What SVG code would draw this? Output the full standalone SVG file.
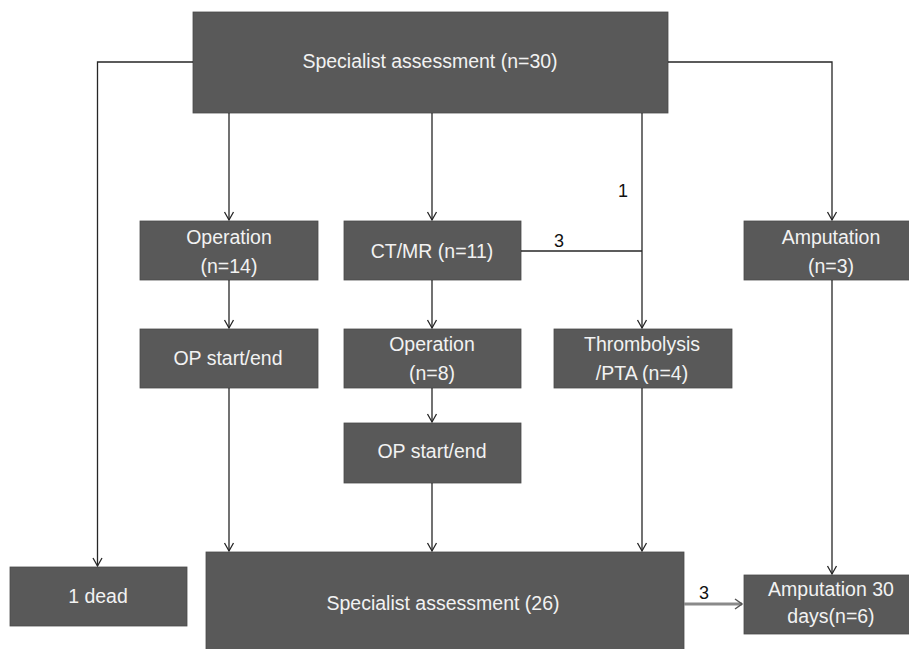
<svg xmlns="http://www.w3.org/2000/svg" width="909" height="649" viewBox="0 0 909 649">
<style>
.box{fill:#595959;stroke:#4a4a4a;stroke-width:0.8}
.t{font-family:"Liberation Sans",Arial,sans-serif;font-size:19.5px;fill:#f2f2f2;text-anchor:middle}
.lbl{font-family:"Liberation Sans",Arial,sans-serif;font-size:18px;fill:#111;text-anchor:middle}
.c{fill:none;stroke:#262626;stroke-width:1.3}
</style>
<defs>
<marker id="ah" markerWidth="12" markerHeight="12" refX="10" refY="6" orient="auto" markerUnits="userSpaceOnUse" viewBox="0 0 12 12">
<path d="M2,1.5 L10,6 L2,10.5" fill="none" stroke="#262626" stroke-width="1.3"/>
</marker>
<marker id="ahr" markerWidth="12" markerHeight="12" refX="10" refY="6" orient="auto" markerUnits="userSpaceOnUse" viewBox="0 0 12 12">
<path d="M3,1 L10,6 L3,11" fill="none" stroke="#555" stroke-width="1.5"/>
</marker>
</defs>
<rect width="909" height="649" fill="#fff"/>
<g id="n-top">
<rect class="box" x="193" y="12" width="475" height="101"/>
<text class="t" x="430" y="68">Specialist assessment (n=30)</text>
</g>
<g id="n-op14">
<rect class="box" x="140" y="221" width="178" height="59"/>
<text class="t" x="229" y="244">Operation</text>
<text class="t" x="229" y="273">(n=14)</text>
</g>
<g id="n-ctmr">
<rect class="box" x="344" y="221" width="177" height="59"/>
<text class="t" x="432" y="258">CT/MR (n=11)</text>
</g>
<g id="n-amp3">
<rect class="box" x="744" y="221" width="178" height="59"/>
<text class="t" x="831" y="244">Amputation</text>
<text class="t" x="831" y="273">(n=3)</text>
</g>
<g id="n-opse1">
<rect class="box" x="140" y="329" width="178" height="59"/>
<text class="t" x="228" y="365">OP start/end</text>
</g>
<g id="n-op8">
<rect class="box" x="344" y="329" width="177" height="59"/>
<text class="t" x="432" y="351">Operation</text>
<text class="t" x="432" y="380">(n=8)</text>
</g>
<g id="n-thromb">
<rect class="box" x="554" y="329" width="178" height="59"/>
<text class="t" x="642" y="351">Thrombolysis</text>
<text class="t" x="642" y="380">/PTA (n=4)</text>
</g>
<g id="n-opse2">
<rect class="box" x="344" y="423" width="177" height="60"/>
<text class="t" x="432" y="458">OP start/end</text>
</g>
<g id="n-dead">
<rect class="box" x="10" y="567" width="177" height="59"/>
<text class="t" x="98" y="603">1 dead</text>
</g>
<g id="n-spec26">
<rect class="box" x="206" y="552" width="478" height="100"/>
<text class="t" x="443" y="610">Specialist assessment (26)</text>
</g>
<g id="n-amp30">
<rect class="box" x="744" y="575" width="178" height="59"/>
<text class="t" x="831" y="596">Amputation 30</text>
<text class="t" x="831" y="623">days(n=6)</text>
</g>
<g id="connectors">
<path class="c" d="M193,62 H97.5 V566" marker-end="url(#ah)"/>
<path class="c" d="M668,62 H832 V220" marker-end="url(#ah)"/>
<path class="c" d="M229,113 V220" marker-end="url(#ah)"/>
<path class="c" d="M432,113 V220" marker-end="url(#ah)"/>
<path class="c" d="M642,113 V328" marker-end="url(#ah)"/>
<path class="c" d="M521,251 H642"/>
<path class="c" d="M229,280 V328" marker-end="url(#ah)"/>
<path class="c" d="M432,280 V328" marker-end="url(#ah)"/>
<path class="c" d="M432,388 V422" marker-end="url(#ah)"/>
<path class="c" d="M229,388 V551" marker-end="url(#ah)"/>
<path class="c" d="M432,483 V551" marker-end="url(#ah)"/>
<path class="c" d="M642,388 V551" marker-end="url(#ah)"/>
<path class="c" d="M832,280 V574" marker-end="url(#ah)"/>
<path d="M684,604 H742" fill="none" stroke="#8a8a8a" stroke-width="3" marker-end="url(#ahr)"/>
<text class="lbl" x="623" y="197">1</text>
<text class="lbl" x="559" y="247">3</text>
<text class="lbl" x="704" y="599">3</text>
</g>
</svg>
